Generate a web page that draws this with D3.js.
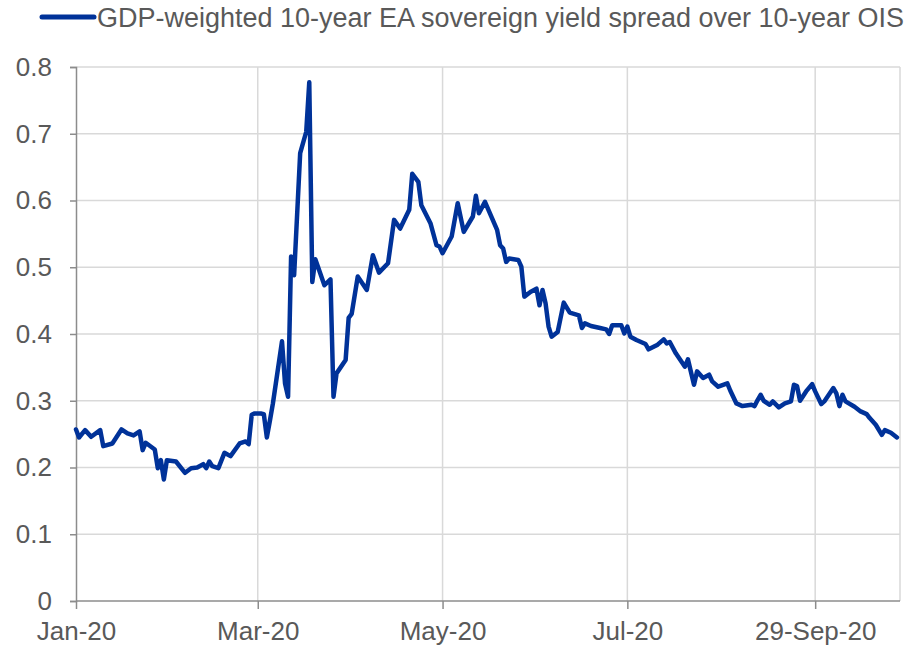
<!DOCTYPE html>
<html>
<head>
<meta charset="utf-8">
<script src="https://cdn.jsdelivr.net/npm/d3@7"></script>
<style>
  html, body { margin: 0; padding: 0; background: #fff; }
  svg { display: block; font-family: "Liberation Sans", Arial, sans-serif; }
</style>
</head>
<body>
<svg id="chart" width="910" height="648"></svg>
<script>
// Daily GDP-weighted 10-year euro area sovereign spread over OIS (percentage points)
const dates = [
  "2020-01-01","2020-01-02","2020-01-04","2020-01-06","2020-01-09","2020-01-10","2020-01-13","2020-01-16",
  "2020-01-18","2020-01-20","2020-01-22","2020-01-23","2020-01-24","2020-01-27","2020-01-28","2020-01-29",
  "2020-01-30","2020-01-31","2020-02-03","2020-02-06","2020-02-08","2020-02-10","2020-02-12","2020-02-13",
  "2020-02-14","2020-02-15","2020-02-17","2020-02-19","2020-02-21","2020-02-24","2020-02-26","2020-02-27",
  "2020-02-28","2020-02-29","2020-03-02","2020-03-03","2020-03-04","2020-03-05","2020-03-06","2020-03-09",
  "2020-03-10","2020-03-11","2020-03-12","2020-03-13","2020-03-15","2020-03-17","2020-03-18","2020-03-19",
  "2020-03-20","2020-03-23","2020-03-25","2020-03-26","2020-03-27","2020-03-30","2020-03-31","2020-04-01",
  "2020-04-03","2020-04-06","2020-04-08","2020-04-10","2020-04-13","2020-04-15","2020-04-17","2020-04-20",
  "2020-04-21","2020-04-23","2020-04-24","2020-04-27","2020-04-29","2020-04-30","2020-05-01","2020-05-04",
  "2020-05-06","2020-05-08","2020-05-11","2020-05-12","2020-05-13","2020-05-15","2020-05-19","2020-05-20",
  "2020-05-21","2020-05-22","2020-05-23","2020-05-26","2020-05-27","2020-05-28","2020-05-30","2020-06-01",
  "2020-06-02","2020-06-03","2020-06-04","2020-06-05","2020-06-06","2020-06-08","2020-06-10","2020-06-12",
  "2020-06-15","2020-06-16","2020-06-17","2020-06-19","2020-06-22","2020-06-24","2020-06-25","2020-06-26",
  "2020-06-29","2020-06-30","2020-07-01","2020-07-02","2020-07-04","2020-07-07","2020-07-08","2020-07-11",
  "2020-07-13","2020-07-14","2020-07-15","2020-07-17","2020-07-20","2020-07-21","2020-07-23","2020-07-24",
  "2020-07-26","2020-07-28","2020-07-29","2020-07-31","2020-08-03","2020-08-04","2020-08-06","2020-08-08",
  "2020-08-11","2020-08-12","2020-08-13","2020-08-14","2020-08-15","2020-08-17","2020-08-18","2020-08-20",
  "2020-08-22","2020-08-24","2020-08-25","2020-08-26","2020-08-27","2020-08-29","2020-08-31","2020-09-01",
  "2020-09-03","2020-09-04","2020-09-07","2020-09-08","2020-09-09","2020-09-10","2020-09-11","2020-09-14",
  "2020-09-16","2020-09-18","2020-09-19","2020-09-21","2020-09-23","2020-09-24","2020-09-26","2020-09-28"
];
const spread = [
  0.257,0.245,0.256,0.246,0.256,0.232,0.236,0.257,
  0.251,0.248,0.254,0.226,0.237,0.227,0.199,0.211,
  0.182,0.211,0.209,0.192,0.199,0.200,0.205,0.199,
  0.209,0.202,0.199,0.222,0.217,0.236,0.239,0.235,
  0.279,0.281,0.281,0.280,0.245,0.270,0.296,0.389,
  0.326,0.306,0.516,0.488,0.671,0.703,0.777,0.478,
  0.512,0.473,0.482,0.306,0.341,0.361,0.424,0.430,
  0.486,0.466,0.518,0.492,0.506,0.571,0.558,0.586,
  0.640,0.628,0.593,0.566,0.533,0.531,0.521,0.546,
  0.596,0.553,0.576,0.607,0.581,0.598,0.556,0.533,
  0.528,0.508,0.513,0.511,0.501,0.456,0.463,0.468,
  0.443,0.466,0.446,0.411,0.396,0.403,0.447,0.432,
  0.428,0.409,0.416,0.412,0.409,0.407,0.400,0.413,
  0.413,0.401,0.411,0.396,0.391,0.385,0.377,0.384,
  0.392,0.386,0.388,0.371,0.351,0.362,0.324,0.344,
  0.334,0.339,0.329,0.321,0.326,0.315,0.296,0.292,
  0.294,0.292,0.301,0.309,0.300,0.294,0.299,0.290,
  0.296,0.299,0.324,0.322,0.300,0.314,0.325,0.314,
  0.295,0.299,0.319,0.311,0.292,0.309,0.299,0.291,
  0.284,0.280,0.274,0.264,0.249,0.256,0.252,0.245
];
const seriesName = "GDP-weighted 10-year EA sovereign yield spread over 10-year OIS";
const xTickDates = ["2020-01-01","2020-03-01","2020-05-01","2020-07-01","2020-09-01"];
const xTickLabels = ["Jan-20","Mar-20","May-20","Jul-20","29-Sep-20"];
const yTicks = [0, 0.1, 0.2, 0.3, 0.4, 0.5, 0.6, 0.7, 0.8];

const parse = d3.utcParse("%Y-%m-%d");
const data = dates.map((d, i) => ({ date: parse(d), value: spread[i] }));

const svg = d3.select("#chart");
const plot = { left: 76, right: 900, top: 67, bottom: 601 };

const x = d3.scaleUtc()
  .domain([parse("2020-01-01"), parse("2020-09-29")])
  .range([plot.left, plot.right]);
const y = d3.scaleLinear().domain([0, 0.8]).range([plot.bottom, plot.top]);

const gridColor = "#d9d9d9";
const axisColor = "#8c8c8c";
const textColor = "#595959";
const tickFont = "26px";

// horizontal gridlines
svg.append("g")
  .selectAll("line")
  .data(yTicks.filter(t => t > 0))
  .join("line")
  .attr("x1", plot.left).attr("x2", plot.right)
  .attr("y1", d => y(d)).attr("y2", d => y(d))
  .attr("stroke", gridColor).attr("stroke-width", 1.5);

// vertical gridlines at the month ticks plus the right edge
const vLines = xTickDates.slice(1).map(parse).concat([x.domain()[1]]);
svg.append("g")
  .selectAll("line")
  .data(vLines)
  .join("line")
  .attr("x1", d => x(d)).attr("x2", d => x(d))
  .attr("y1", plot.top).attr("y2", plot.bottom)
  .attr("stroke", gridColor).attr("stroke-width", 1.5);

// y axis
const yAxis = svg.append("g")
  .attr("transform", `translate(${plot.left},0)`)
  .call(d3.axisLeft(y).tickValues(yTicks).tickSize(6).tickPadding(18)
    .tickFormat(d => d === 0 ? "0" : d3.format(".1f")(d)));
yAxis.select(".domain").attr("stroke", axisColor).attr("stroke-width", 1.5);
yAxis.selectAll(".tick line").attr("stroke", axisColor).attr("stroke-width", 1.5);
yAxis.selectAll("text")
  .attr("fill", textColor)
  .style("font-size", tickFont)
  .style("font-family", "Liberation Sans, Arial, sans-serif");

// x axis
const xAxis = svg.append("g")
  .attr("transform", `translate(0,${plot.bottom})`)
  .call(d3.axisBottom(x).tickValues(xTickDates.map(parse)).tickSize(8).tickPadding(13)
    .tickFormat((d, i) => xTickLabels[i]));
xAxis.select(".domain").attr("stroke", axisColor).attr("stroke-width", 1.5)
  .attr("d", `M${plot.left},0H${plot.right}`);
xAxis.selectAll(".tick line").attr("stroke", axisColor).attr("stroke-width", 1.5);
xAxis.selectAll("text")
  .attr("fill", textColor)
  .style("font-size", tickFont)
  .style("font-family", "Liberation Sans, Arial, sans-serif");

// series line
const line = d3.line().x(d => x(d.date)).y(d => y(d.value));
svg.append("path")
  .datum(data)
  .attr("d", line)
  .attr("fill", "none")
  .attr("stroke", "#003299")
  .attr("stroke-width", 4.5)
  .attr("stroke-linejoin", "round")
  .attr("stroke-linecap", "round");

// legend
const legend = svg.append("g").attr("transform", "translate(0,17)");
legend.append("line")
  .attr("x1", 42).attr("x2", 94).attr("y1", 0).attr("y2", 0)
  .attr("stroke", "#003299").attr("stroke-width", 5).attr("stroke-linecap", "round");
legend.append("text")
  .attr("x", 97).attr("y", 0).attr("dy", "0.36em")
  .attr("fill", textColor)
  .attr("textLength", 807).attr("lengthAdjust", "spacingAndGlyphs")
  .style("font-size", "27px")
  .text(seriesName);
</script>
</body>
</html>
